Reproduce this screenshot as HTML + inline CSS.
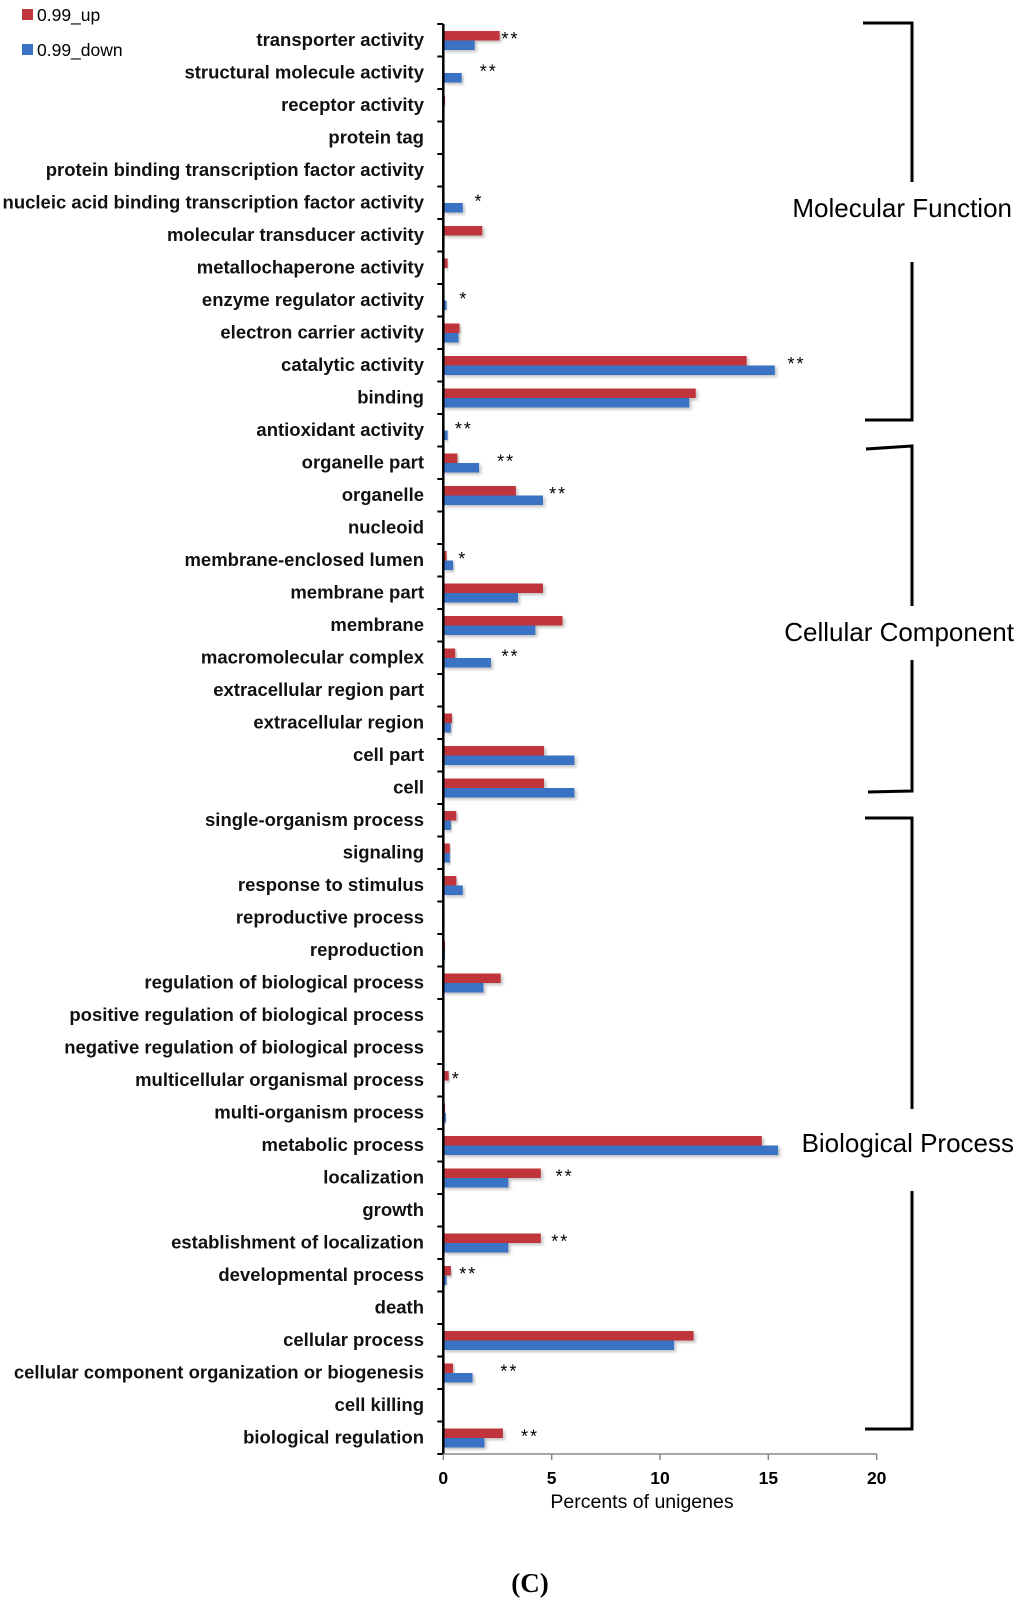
<!DOCTYPE html>
<html><head><meta charset="utf-8"><style>
html,body{margin:0;padding:0;background:#fff;}
svg{display:block;font-family:"Liberation Sans",sans-serif;}
</style></head><body>
<svg id="chart" width="1024" height="1608" viewBox="0 0 1024 1608" xmlns="http://www.w3.org/2000/svg">
<defs><filter id="sh" x="-5%" y="-20%" width="120%" height="160%"><feDropShadow dx="2" dy="2" stdDeviation="1.5" flood-color="#000" flood-opacity="0.25"/></filter></defs>
<g id="legend">
 <rect x="22" y="9" width="11" height="11" fill="#C0363A"/>
 <text x="37" y="21" font-size="17.5">0.99_up</text>
 <rect x="22" y="44" width="11" height="11" fill="#3B73C4"/>
 <text x="37" y="56" font-size="17.5">0.99_down</text>
</g>
<g id="brackets" stroke="#000" stroke-width="3" fill="none">
 <path d="M863 23 L912 23 L912 182"/>
 <path d="M912 262 L912 420 L865 420"/>
 <path d="M866 449 L912 446 L912 606"/>
 <path d="M912 660 L912 791 L868 792"/>
 <path d="M865 818 L912 818 L912 1109"/>
 <path d="M912 1191 L912 1429 L865 1429"/>
</g>
<text x="1012" y="217" font-size="26" text-anchor="end">Molecular Function</text>
<text x="1014" y="641" font-size="26" text-anchor="end">Cellular Component</text>
<text x="1014" y="1152" font-size="26" text-anchor="end">Biological Process</text>
<g id="bars"></g>
<g id="axes"></g>
<text x="642" y="1508" font-size="19.5" text-anchor="middle">Percents of unigenes</text>
<text x="530" y="1592" font-size="27" font-weight="bold" text-anchor="middle" font-family="Liberation Serif, serif">(C)</text>
</svg>
<script>
const categories = ["transporter activity","structural molecule activity","receptor activity","protein tag","protein binding transcription factor activity","nucleic acid binding transcription factor activity","molecular transducer activity","metallochaperone activity","enzyme regulator activity","electron carrier activity","catalytic activity","binding","antioxidant activity","organelle part","organelle","nucleoid","membrane-enclosed lumen","membrane part","membrane","macromolecular complex","extracellular region part","extracellular region","cell part","cell","single-organism process","signaling","response to stimulus","reproductive process","reproduction","regulation of biological process","positive regulation of biological process","negative regulation of biological process","multicellular organismal process","multi-organism process","metabolic process","localization","growth","establishment of localization","developmental process","death","cellular process","cellular component organization or biogenesis","cell killing","biological regulation"];
const upValues = [2.6,0.05,0.08,0,0.02,0.05,1.8,0.2,0.05,0.75,14.0,11.65,0.05,0.65,3.35,0,0.15,4.6,5.5,0.55,0,0.4,4.65,4.65,0.6,0.3,0.6,0.05,0.08,2.65,0.02,0.02,0.25,0.08,14.7,4.5,0,4.5,0.35,0,11.55,0.45,0,2.75];
const downValues = [1.45,0.85,0.05,0,0,0.9,0.05,0,0.15,0.7,15.3,11.35,0.2,1.65,4.6,0,0.45,3.45,4.25,2.2,0,0.35,6.05,6.05,0.35,0.3,0.9,0.05,0.08,1.85,0.05,0.02,0.02,0.12,15.45,3.0,0,3.0,0.15,0,10.65,1.35,0,1.9];
const sigLabels = ["**","**","","","","*","","","*","","**","","**","**","**","","*","","","**","","","","","","","","","","","","","*","","","**","","**","**","","","**","","**"];
const sigPos = [3.1,2.1,0,0,0,1.65,0,0,0.95,0,16.3,0,0.95,2.9,5.3,0,0.9,0,0,3.1,0,0,0,0,0,0,0,0,0,0,0,0,0.6,0,0,5.6,0,5.4,1.15,0,0,3.05,0,4.0];
const xTicks = [0,5,10,15,20];

const NS="http://www.w3.org/2000/svg";
const X0=443.3, PX=21.67, TOP=24, ROW=32.5;
const x = v => X0 + v*PX;
const rowTop = i => TOP + i*ROW;
function mk(tag, attrs, parent){const e=document.createElementNS(NS,tag);for(const k in attrs)e.setAttribute(k,attrs[k]);parent.appendChild(e);return e;}
const bars=document.getElementById('bars'), axes=document.getElementById('axes');
categories.forEach((c,i)=>{
  const t=rowTop(i);
  const lab=mk('text',{x:424,y:t+22,'font-size':18.5,'font-weight':'bold','text-anchor':'end',fill:'#111'},bars);
  lab.textContent=c;
  
  
  if(upValues[i]>0){
    const r=mk('rect',{x:X0,y:t+7,width:upValues[i]*PX,height:9.5,fill:'#C0363A',filter:'url(#sh)'},bars);
    
    
  }
  if(downValues[i]>0){
    const r=mk('rect',{x:X0,y:t+16.5,width:downValues[i]*PX,height:9.5,fill:'#3B73C4',filter:'url(#sh)'},bars);
    
    
  }
  if(sigLabels[i]){
    const s=mk('text',{x:x(sigPos[i]),y:t+21,'font-size':18,'text-anchor':'middle','letter-spacing':'2'},bars);
    s.textContent=sigLabels[i];
    
    
  }
});
const bottom=TOP+categories.length*ROW;
const ya=mk('line',{x1:X0,y1:TOP,x2:X0,y2:bottom,stroke:'#000','stroke-width':2.5},axes);


for(let i=0;i<=categories.length;i++){
  const tk=mk('line',{x1:X0-6,y1:rowTop(i),x2:X0,y2:rowTop(i),stroke:'#000','stroke-width':2},axes);
  
  
}
const xa=mk('line',{x1:X0,y1:bottom,x2:x(20),y2:bottom,stroke:'#888','stroke-width':1.5},axes);


xTicks.forEach(v=>{
  const tk=mk('line',{x1:x(v),y1:bottom,x2:x(v),y2:bottom+6,stroke:'#888','stroke-width':1.5},axes);
  
  
  const tl=mk('text',{x:x(v),y:bottom+30,'font-size':17.5,'font-weight':'bold','text-anchor':'middle'},axes);
  tl.textContent=v;
  
  
});
</script>
</body></html>
